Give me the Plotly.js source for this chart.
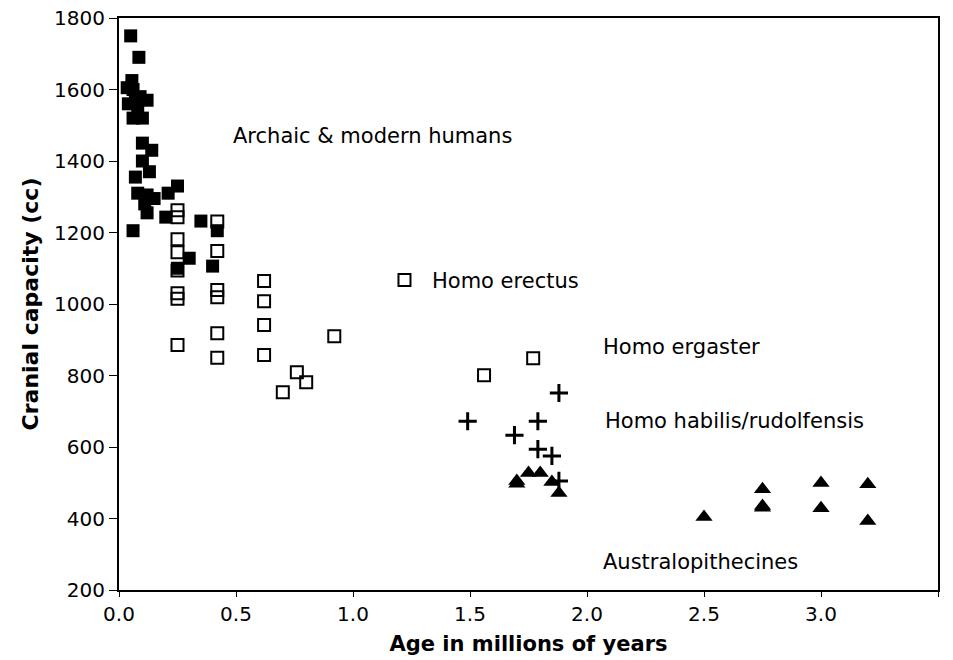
<!DOCTYPE html>
<html>
<head>
<meta charset="utf-8">
<script src="https://cdn.plot.ly/plotly-3.0.1.min.js"></script>
<style>html,body{margin:0;padding:0;background:#fff}#chart{width:953px;height:660px}</style>
</head>
<body>
<div id="chart"></div>
<script>
// Archaic & modern humans (filled squares)
const humansAge = [0.05,0.085,0.055,0.035,0.06,0.12,0.07,0.04,0.09,0.06,0.10,0.08,
  0.10,0.14,0.10,0.13,0.07,0.25,0.21,0.08,0.12,0.15,0.11,0.12,0.20,0.35,0.42,0.06,0.30,0.25,0.40];
const humansCC = [1750,1690,1625,1605,1600,1570,1565,1560,1580,1520,1520,1540,
  1450,1430,1400,1370,1355,1330,1310,1310,1305,1295,1280,1255,1243,1232,1205,1205,1128,1100,1106];
// Homo erectus / ergaster (open squares)
const erectusAge = [0.25,0.25,0.25,0.25,0.25,0.25,0.25,0.25,
  0.42,0.42,0.42,0.42,0.42,0.42,
  0.62,0.62,0.62,0.62,0.70,0.76,0.80,0.92,1.22,1.56,1.77];
const erectusCC = [1262,1243,1181,1145,1094,1030,1015,885,
  1231,1148,1039,1019,918,850,
  1064,1008,941,857,753,809,781,910,1067,801,848];
// Homo habilis / rudolfensis (crosses)
const habilisAge = [1.49,1.88,1.79,1.69,1.79,1.85,1.88];
const habilisCC = [672,751,672,633,594,575,505];
// Australopithecines (filled triangles)
const australAge = [1.70,1.70,1.75,1.80,1.85,1.88,2.50,2.75,2.75,2.75,3.00,3.00,3.20,3.20];
const australCC = [497,505,527,527,502,471,404,482,430,435,499,429,496,393];
// Group labels
const labelText = ["Archaic &amp; modern humans","Homo erectus","Homo ergaster","Homo habilis/rudolfensis","Australopithecines"];
const labelAge = [0.48,1.33,2.06,2.07,2.06];
const labelCC = [1469,1064,879,672,278];

const FONT = 'DejaVu Sans, Verdana, sans-serif';
const traces = [
  {x: humansAge, y: humansCC, type:'scatter', mode:'markers', name:'Archaic & modern humans',
   marker:{symbol:'square', size:13, color:'#000'}},
  {x: erectusAge, y: erectusCC, type:'scatter', mode:'markers', name:'Homo erectus',
   marker:{symbol:'square-open', size:12, color:'#000', line:{width:2, color:'#000'}}},
  {x: habilisAge, y: habilisCC, type:'scatter', mode:'markers', name:'Homo habilis/rudolfensis',
   marker:{symbol:'cross-thin-open', size:13, color:'#000', line:{width:3, color:'#000'}}},
  {x: australAge, y: australCC, type:'scatter', mode:'markers', name:'Australopithecines',
   marker:{symbol:'triangle-up', size:15, color:'#000'}}
];
const annotations = labelText.map((t,i)=>({x: labelAge[i], y: labelCC[i], text: t, showarrow:false,
  xanchor:'left', yanchor:'middle', font:{family:FONT, size:21, color:'#000'}}));
const layout = {
  width:953, height:660,
  margin:{l:119, r:15, t:18, b:70},
  paper_bgcolor:'#fff', plot_bgcolor:'#fff',
  showlegend:false,
  font:{family:FONT, color:'#000'},
  xaxis:{range:[0,3.5], dtick:0.5, tick0:0, tickformat:'.1f', showgrid:false, zeroline:false,
    showline:true, linecolor:'#000', linewidth:2, mirror:true, ticks:'outside', ticklen:5, tickcolor:'#000',
    tickfont:{family:FONT, size:20, color:'#000'},
    title:{text:'<b>Age in millions of years</b>', font:{family:FONT, size:21, color:'#000'}, standoff:11}},
  yaxis:{range:[200,1800], dtick:200, tick0:200, showgrid:false, zeroline:false,
    showline:true, linecolor:'#000', linewidth:2, mirror:true, ticks:'outside', ticklen:8, tickcolor:'#000',
    tickfont:{family:FONT, size:20, color:'#000'},
    title:{text:'<b>Cranial capacity (cc)</b>', font:{family:FONT, size:22, color:'#000'}, standoff:9}},
  annotations: annotations
};
Plotly.newPlot('chart', traces, layout, {displayModeBar:false, staticPlot:true});
</script>
</body>
</html>
